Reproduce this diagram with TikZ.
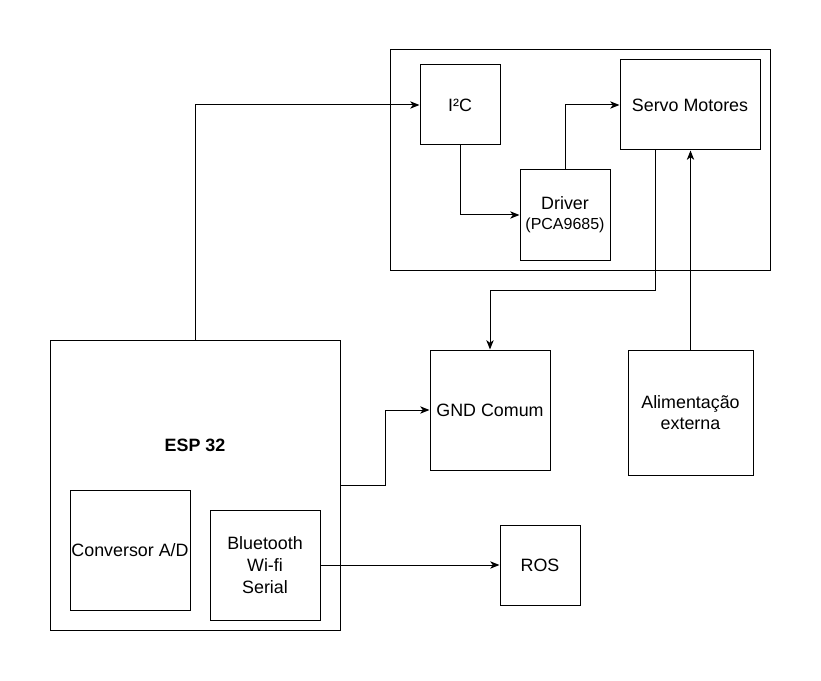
\documentclass[tikz,border=0pt]{standalone}
\usepackage{fontspec}
\setmainfont{Liberation Sans}
\usetikzlibrary{arrows.meta}

\begin{document}
\begin{tikzpicture}[x=0.75pt, y=-0.75pt, line width=0.75pt,
  font=\fontsize{13.4}{16.25}\selectfont,
  box/.style={draw, rectangle, align=center, inner sep=0pt},
  sz/.style 2 args={minimum width=#1*0.75pt, minimum height=#2*0.75pt},
  arr/.style={-{Stealth[length=7pt, width=5.5pt, inset=2pt]}}]
\useasboundingbox (0,0) rectangle (821,681);

% module with the servo side
\node[box, sz={380}{220}] (frame) at (580,160) {};
\node[box, sz={80}{80}] (i2c) at (460,105) {I²C};
\node[box, sz={140}{90}] (servo) at (690,105) {Servo Motores};
\node[box, sz={90}{90}] (driver) at (565,215) {Driver\\[-1pt]{\fontsize{12}{14}\selectfont(PCA9685)}};

% ESP 32 and its parts
\node[box, sz={290}{290}] (esp) at (195,485) {};
\node[font=\fontsize{13.4}{16.25}\selectfont\bfseries] (esplabel) at (195,445) {ESP 32};
\node[box, sz={120}{120}] (conv) at (130,550) {Conversor A/D};
\node[box, sz={110}{110}] (bt) at (265,565) {Bluetooth\\Wi-fi\\Serial};

\node[box, sz={120}{120}] (gnd) at (490,410) {GND Comum};
\node[box, sz={125}{125}] (alim) at (690.5,412.5) {Alimentação\\externa};
\node[box, sz={80}{80}] (ros) at (540,565) {ROS};

\draw[arr] (esp.north) |- (i2c.west);
\draw[arr] (i2c.south) |- (driver.west);
\draw[arr] (driver.north) |- (servo.west);
\draw[arr] ([xshift=-26.25pt]servo.south) -- ++(0,140) -| (gnd.north);
\draw[arr] (alim.north) -- (alim.north |- servo.south);
\draw[arr] (esp.east) -- ++(45,0) |- (gnd.west);
\draw[arr] (bt.east) -- (ros.west);

\end{tikzpicture}
\end{document}
